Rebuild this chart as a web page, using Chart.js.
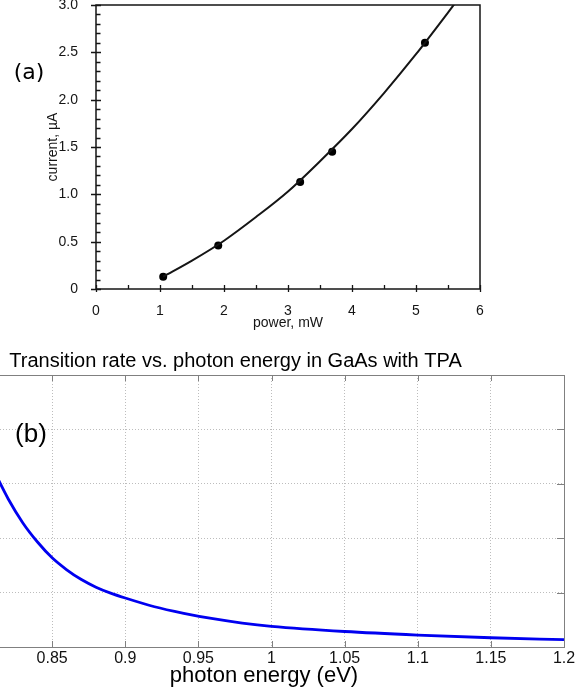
<!DOCTYPE html>
<html>
<head>
<meta charset="utf-8">
<script src="https://cdn.jsdelivr.net/npm/chart.js@4"></script>
<style>
  html, body { margin: 0; padding: 0; background: #fff; width: 585px; height: 692px; overflow: hidden; }
  #ca { position: absolute; left: 0; top: 0; }
  #cb { position: absolute; left: -21px; top: 335px; }
</style>
</head>
<body>
<canvas id="ca" width="585" height="335"></canvas>
<canvas id="cb" width="606" height="357"></canvas>
<script>
// ---- Panel (a): photocurrent against optical power ----
const powerMeasured = [1.05, 1.91, 3.19, 3.69, 5.14];          // mW
const currentMeasured = [0.13, 0.46, 1.13, 1.45, 2.60];        // µA
const powerFit = [1.05, 1.5, 2.0, 2.5, 3.0, 3.5, 4.0, 4.5, 5.0, 5.5, 5.6];
const currentFit = [0.13, 0.30, 0.51, 0.76, 1.03, 1.35, 1.69, 2.07, 2.48, 2.92, 3.01];
const powerTicks = [0, 1, 2, 3, 4, 5, 6];
const currentTicks = [0, 0.5, 1.0, 1.5, 2.0, 2.5, 3.0];

// ---- Panel (b): transition rate against photon energy ----
const photonEnergy = [0.81, 0.82, 0.83, 0.84, 0.85, 0.86, 0.87, 0.88, 0.89, 0.90,
                      0.92, 0.94, 0.96, 0.98, 1.00, 1.05, 1.10, 1.15, 1.20];
const transitionRate = [3.25, 2.72, 2.28, 1.93, 1.64, 1.42, 1.24, 1.10, 0.99, 0.90,
                        0.74, 0.62, 0.52, 0.44, 0.38, 0.285, 0.22, 0.17, 0.135];
const energyTicks = [0.85, 0.9, 0.95, 1, 1.05, 1.1, 1.15, 1.2];
const rateGrid = [0, 1, 2, 3, 4, 5];

const SANS = '"Liberation Sans", Arial, Helvetica, sans-serif';
const ink = '#151515';

const toXY = (xs, ys) => xs.map((x, i) => ({ x, y: ys[i] }));
const noOverflow = s => { s.paddingTop = 0; s.paddingBottom = 0; s.paddingLeft = 0; s.paddingRight = 0; };

// Frame, tick marks and captions for the power/current plot
const framePluginA = {
  id: 'frameA',
  afterDatasetsDraw(chart) {
    const { ctx, chartArea: a, scales: { x, y } } = chart;
    ctx.save();
    ctx.strokeStyle = ink;
    ctx.lineWidth = 1.5;
    ctx.strokeRect(a.left, a.top, a.right - a.left, a.bottom - a.top);
    ctx.lineWidth = 1.3;
    ctx.beginPath();
    // x: major ticks straddle the axis, minor ticks point inward
    for (let k = 0; k <= 12; k++) {
      const px = Math.round(x.getPixelForValue(k / 2)) + 0.5;
      const major = k % 2 === 0;
      ctx.moveTo(px, a.bottom - 4);
      ctx.lineTo(px, a.bottom + (major ? 3 : 0));
    }
    // y: major every 0.5, minor every 0.1
    for (let k = 0; k <= 30; k++) {
      const py = Math.round(y.getPixelForValue(k / 10)) + 0.5;
      const major = k % 5 === 0;
      ctx.moveTo(a.left - (major ? 5 : 0), py);
      ctx.lineTo(a.left + (major ? 5 : 4.5), py);
    }
    ctx.stroke();

    ctx.fillStyle = ink;
    ctx.font = '14px ' + SANS;
    ctx.textAlign = 'center';
    ctx.textBaseline = 'alphabetic';
    ctx.fillText('power, mW', (a.left + a.right) / 2, 327);
    ctx.save();
    ctx.translate(57, (a.top + a.bottom) / 2);
    ctx.rotate(-Math.PI / 2);
    ctx.fillText('current, µA', 0, 0);
    ctx.restore();

    ctx.fillStyle = '#000';
    ctx.font = '22px "DejaVu Sans", sans-serif';
    ctx.fillText('(a)', 29, 79);
    ctx.restore();
  }
};

new Chart(document.getElementById('ca'), {
  type: 'scatter',
  data: {
    datasets: [
      {
        label: 'fit',
        data: toXY(powerFit, currentFit),
        showLine: true,
        borderColor: ink,
        borderWidth: 2,
        pointRadius: 0,
        cubicInterpolationMode: 'monotone'
      },
      {
        label: 'measured',
        data: toXY(powerMeasured, currentMeasured),
        showLine: false,
        pointRadius: 4,
        pointBackgroundColor: '#000',
        pointBorderColor: '#000',
        pointBorderWidth: 0
      }
    ]
  },
  options: {
    responsive: false,
    animation: false,
    devicePixelRatio: 1,
    layout: { padding: { left: 0, top: 5, right: 105, bottom: 0 } },
    plugins: { legend: { display: false }, tooltip: { enabled: false } },
    scales: {
      x: {
        type: 'linear', min: 0, max: 6,
        grid: { display: false },
        border: { display: false },
        afterBuildTicks: s => { s.ticks = powerTicks.map(v => ({ value: v })); },
        afterFit: s => { s.height = 46; noOverflow(s); },
        ticks: { color: ink, padding: 6, font: { family: SANS, size: 14 }, callback: v => String(v) }
      },
      y: {
        type: 'linear', min: 0, max: 3,
        grid: { display: false },
        border: { display: false },
        afterBuildTicks: s => { s.ticks = currentTicks.map(v => ({ value: v })); },
        afterFit: s => { s.width = 96; noOverflow(s); },
        ticks: { color: ink, padding: 10, font: { family: SANS, size: 14 },
                 callback: v => (v === 0 ? '0' : v.toFixed(1)) }
      }
    }
  },
  plugins: [framePluginA]
});

// Box, inward ticks and captions for the transition-rate plot
const framePluginB = {
  id: 'frameB',
  afterDatasetsDraw(chart) {
    const { ctx, chartArea: a, scales: { x, y } } = chart;
    ctx.save();
    ctx.strokeStyle = '#808080';
    ctx.lineWidth = 1;
    ctx.strokeRect(Math.round(a.left) + 0.5, Math.round(a.top) + 0.5,
                   Math.round(a.right - a.left), Math.round(a.bottom - a.top));
    ctx.beginPath();
    energyTicks.forEach(v => {
      const px = Math.round(x.getPixelForValue(v)) + 0.5;
      ctx.moveTo(px, a.bottom); ctx.lineTo(px, a.bottom - 6);
      ctx.moveTo(px, a.top); ctx.lineTo(px, a.top + 6);
    });
    rateGrid.forEach(v => {
      const py = Math.round(y.getPixelForValue(v)) + 0.5;
      ctx.moveTo(a.right, py); ctx.lineTo(a.right - 7, py);
    });
    ctx.stroke();

    ctx.fillStyle = '#000';
    ctx.textAlign = 'center';
    ctx.textBaseline = 'alphabetic';
    ctx.font = '20px ' + SANS;
    ctx.fillText('Transition rate vs. photon energy in GaAs with TPA', 256.5, 32);
    ctx.font = '22px ' + SANS;
    ctx.fillText('photon energy (eV)', 285, 346.5);
    ctx.font = '26px ' + SANS;
    ctx.fillText('(b)', 52, 106.5);
    ctx.restore();
  }
};

new Chart(document.getElementById('cb'), {
  type: 'line',
  data: {
    datasets: [{
      label: 'rate',
      data: toXY(photonEnergy, transitionRate),
      borderColor: '#0000f0',
      borderWidth: 2.8,
      pointRadius: 0,
      cubicInterpolationMode: 'monotone'
    }]
  },
  options: {
    responsive: false,
    animation: false,
    devicePixelRatio: 1,
    layout: { padding: { left: 0, top: 40, right: 21, bottom: 0 } },
    plugins: { legend: { display: false }, tooltip: { enabled: false } },
    scales: {
      x: {
        type: 'linear', min: 0.8, max: 1.2,
        grid: { color: '#bdbdbd', lineWidth: 1, drawTicks: false },
        border: { display: true, color: '#808080', dash: [1, 2] },
        afterBuildTicks: s => { s.ticks = energyTicks.map(v => ({ value: v })); },
        afterFit: s => { s.height = 45; noOverflow(s); },
        ticks: { color: '#111', padding: 2, font: { family: SANS, size: 16 }, callback: v => String(v) }
      },
      y: {
        type: 'linear', min: 0, max: 5,
        grid: { color: '#bdbdbd', lineWidth: 1, drawTicks: false },
        border: { display: false, dash: [1, 2] },
        afterBuildTicks: s => { s.ticks = rateGrid.map(v => ({ value: v })); },
        afterFit: s => { s.width = 0; noOverflow(s); },
        ticks: { display: false }
      }
    }
  },
  plugins: [framePluginB]
});
</script>
</body>
</html>
